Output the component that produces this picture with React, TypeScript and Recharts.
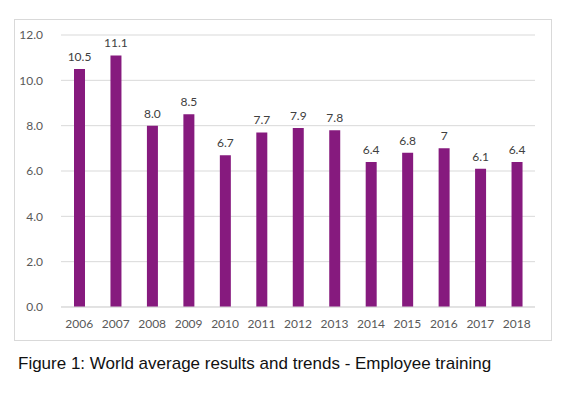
import React from "react";
import { BarChart, Bar, XAxis, YAxis, CartesianGrid, LabelList } from "recharts";

const YEARS = ["2006", "2007", "2008", "2009", "2010", "2011", "2012", "2013", "2014", "2015", "2016", "2017", "2018"];
const SCORES = [10.5, 11.1, 8.0, 8.5, 6.7, 7.7, 7.9, 7.8, 6.4, 6.8, 7.0, 6.1, 6.4];
const SCORE_LABELS = ["10.5", "11.1", "8.0", "8.5", "6.7", "7.7", "7.9", "7.8", "6.4", "6.8", "7", "6.1", "6.4"];
const Y_TICKS = [0, 2, 4, 6, 8, 10, 12];

const chartData = YEARS.map((year, i) => ({ year, score: SCORES[i], label: SCORE_LABELS[i] }));

const FONT = "Lato, 'Open Sans', sans-serif";

export default function App() {
  return (
    <div style={{ position: "absolute", left: 0, top: 0, width: 568, height: 394, background: "#fff" }}>
      <div
        style={{
          position: "absolute",
          left: 14,
          top: 19,
          width: 538,
          height: 322,
          boxSizing: "border-box",
          border: "1px solid #d9d9d9",
        }}
      >
        <BarChart
          width={536}
          height={320}
          data={chartData}
          margin={{ top: 15, right: 16, left: 0, bottom: 3 }}
          barSize={11}
          style={{ fontFamily: FONT }}
        >
          <CartesianGrid vertical={false} stroke="#d9d9d9" />
          <XAxis
            dataKey="year"
            height={30}
            tick={{ fontSize: 12, fill: "#595959" }}
            tickLine={false}
            axisLine={{ stroke: "#d9d9d9" }}
            tickMargin={6}
          />
          <YAxis
            width={46}
            domain={[0, 12]}
            ticks={Y_TICKS}
            tickFormatter={(v: number) => v.toFixed(1)}
            tick={{ fontSize: 12, fill: "#595959" }}
            tickLine={false}
            axisLine={false}
            tickMargin={12}
          />
          <Bar dataKey="score" fill="#861a7e" isAnimationActive={false}>
            <LabelList dataKey="label" position="top" offset={8} style={{ fontSize: 12, fill: "#404040" }} />
          </Bar>
        </BarChart>
      </div>
      <div
        style={{
          position: "absolute",
          left: 18,
          top: 354,
          fontFamily: "'Liberation Sans', Arial, sans-serif",
          fontSize: 17,
          color: "#111",
          whiteSpace: "nowrap",
        }}
      >
        Figure 1: World average results and trends - Employee training
      </div>
    </div>
  );
}
